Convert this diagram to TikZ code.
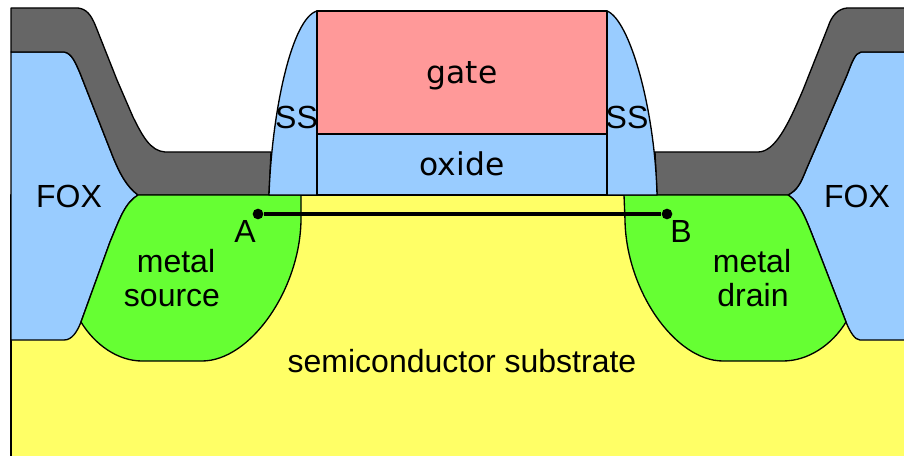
\documentclass[tikz,border=0pt]{standalone}
\usepackage{fontspec}
\setmainfont{Liberation Sans}
\newfontfamily\dv{DejaVu Sans}
\definecolor{fblue}{RGB}{153,204,255}
\definecolor{fgray}{RGB}{102,102,102}
\definecolor{fgreen}{RGB}{102,255,51}
\definecolor{fyellow}{RGB}{255,255,102}
\definecolor{fred}{RGB}{255,153,153}
\tikzset{
  part/.style={draw=black,line width=1.0pt,line join=round},
  lab/.style={font=\fontsize{24}{26}\selectfont,inner sep=0pt,anchor=base,text=black},
  labb/.style={font=\dv\fontsize{23.5}{26}\selectfont,inner sep=0pt,anchor=base,text=black},
  dotend/.style={circle,fill=black,minimum size=8pt,inner sep=0pt}
}
\begin{document}
\begin{tikzpicture}[x=0.75pt,y=-0.75pt]
\useasboundingbox (0,0) rectangle (904,456);
\fill[white] (0,0) rectangle (904,456);
% substrate
\fill[fyellow] (11,195) rectangle (904,456);
\draw[part] (11,456) -- (11,195) -- (904,195);
% left FOX
\filldraw[part,fill=fblue] (11,340) -- (11,52) -- (64,52)
  .. controls (72,53) and (76,64) .. (80,73) -- (113,157) .. controls (120,174) and (127,187) .. (138,195)
  .. controls (125,203) and (120,218) .. (110,242) -- (81,322) .. controls (77,332) and (72,340) .. (64,340) -- cycle;
% right FOX
\fill[fblue] (904,340) -- (904,52) -- (861,52) -- (788,195) -- (846,322) -- (860,340) -- cycle;
\filldraw[part,fill=fblue] (904,340) -- (860,340) .. controls (855,340) and (850,332) .. (846,322)
  -- (817,247) .. controls (807,222) and (801,203) .. (788,195)
  .. controls (797,190) and (800,185) .. (806,170) -- (847,75) .. controls (852,62) and (855,53) .. (861,52) -- (904,52);
% left gray
\filldraw[part,fill=fgray] (11,8) -- (78,8) .. controls (86,9) and (91,14) .. (96,27) -- (117,80) -- (133,117)
  .. controls (142,135) and (150,151) .. (165,152) -- (271,152) -- (269,195) -- (138,195)
  .. controls (127,187) and (120,174) .. (113,157) -- (80,73) .. controls (76,64) and (72,53) .. (64,52) -- (11,52) -- cycle;
% right gray
\fill[fgray] (904,8) -- (847,8) .. controls (838,9) and (832,15) .. (828,27) -- (803,90)
  .. controls (788,125) and (775,152) .. (758,152) -- (655,152) -- (657,195) -- (788,195)
  .. controls (797,190) and (800,185) .. (806,170) -- (847,75) .. controls (852,62) and (855,53) .. (861,52) -- (904,52) -- cycle;
\draw[part] (904,8) -- (847,8) .. controls (838,9) and (832,15) .. (828,27) -- (803,90)
  .. controls (788,125) and (775,152) .. (758,152) -- (655,152) -- (657,195) -- (788,195)
  .. controls (797,190) and (800,185) .. (806,170) -- (847,75) .. controls (852,62) and (855,53) .. (861,52) -- (904,52);
% source / drain
\filldraw[part,fill=fgreen] (138,195) -- (301,195) -- (301,220) .. controls (300,290) and (250,361) .. (202,361)
  -- (142,361) .. controls (118,361) and (95,345) .. (81,322) -- (110,242) .. controls (120,218) and (125,203) .. (138,195) -- cycle;
\filldraw[part,fill=fgreen] (624,195) -- (788,195) .. controls (801,203) and (807,222) .. (817,247) -- (846,322)
  .. controls (832,345) and (808,361) .. (783,361) -- (723,361) .. controls (675,361) and (626,290) .. (625,220) -- cycle;
% spacers
\filldraw[part,fill=fblue] (317,11) .. controls (292,18) and (272,110) .. (269,195) -- (317,195) -- cycle;
\filldraw[part,fill=fblue] (607,11) .. controls (630,20) and (655,110) .. (657,195) -- (607,195) -- cycle;
% oxide, gate
\filldraw[part,fill=fblue] (317,134) rectangle (607,195);
\filldraw[part,fill=fred] (317,11) rectangle (607,134);
% channel line
\node[dotend] (A) at (258,214) {};
\node[dotend] (B) at (667,214) {};
\draw[black,line width=2.4pt] (A) -- (B);
% labels
\node[labb] (gate) at (462,84) {gate};
\node[labb] (oxide) at (462,176) {oxide};
\node[lab] (fox1) at (69,207.5) {FOX};
\node[lab] (fox2) at (857,207.5) {FOX};
\node[lab] (ss1) at (296.5,128.5) {SS};
\node[lab] (ss2) at (627,128.5) {SS};
\node[lab] (la) at (245,243) {A};
\node[lab] (lb) at (681,243) {B};
\node[lab] (m1) at (176,272.5) {metal};
\node[lab] (s1) at (172,306.5) {source};
\node[lab] (m2) at (752,272.5) {metal};
\node[lab] (d2) at (753,306.5) {drain};
\node[lab] (sub) at (462,372.5) {semiconductor substrate};
\end{tikzpicture}
\end{document}
